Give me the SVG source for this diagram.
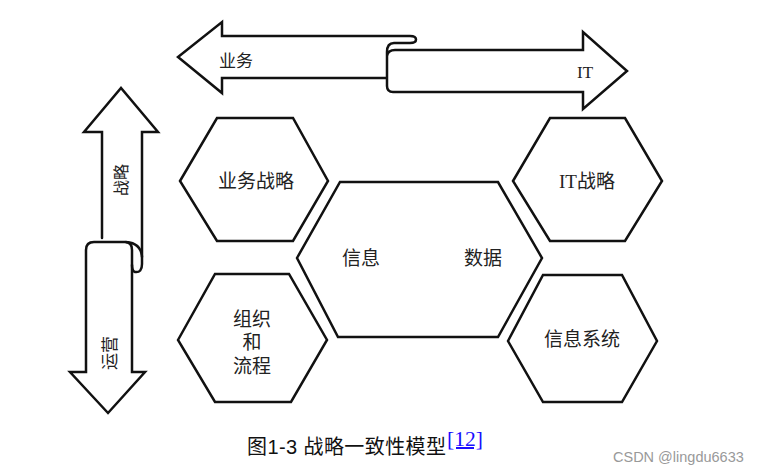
<svg xmlns="http://www.w3.org/2000/svg" width="770" height="476" viewBox="0 0 770 476">
<style>
.ln{fill:none;stroke:#111;stroke-width:2.5;stroke-linejoin:miter;stroke-linecap:round}
.sh{fill:#fff;stroke:#111;stroke-width:2.5;stroke-linejoin:miter}
.t{font-family:"Liberation Serif","Noto Sans CJK SC",serif;fill:#222;text-anchor:middle;dominant-baseline:central}
.t19{font-size:19px}
</style>
<rect width="770" height="476" fill="#fff"/>
<g id="arrows">
  <g id="arrow-business-it">
    <path class="ln" d="M387,78 L222,78 L222,93 L178,57 L222,22 L222,36 L410,36 C418,36 418,43 410,43 L394,43 C389,43 387,46 387,52 L387,86 Q387,92 393,92 L583,92 L583,109 L627,71 L583,32 L583,50 L395,50 Q388,50 387,56"/>
    <text class="t" x="236" y="61" font-size="17">业务</text>
    <text class="t" x="585" y="72" font-size="17">IT</text>
  </g>
  <g id="arrow-strategy-operation">
    <path class="ln" d="M102,238 L102,132 L84,132 L121,88 L158,132 L142,132 L142,264 Q142,273 135,272 Q132,271 132,265"/>
    <path class="ln" d="M132,372 L132,250 Q132,242 125,242 L94,242 Q86,242 86,250 L86,372 L70,372 L108,413 L145,372 Z"/>
    <path class="ln" d="M126,242 Q141,243 142,257"/>
    <text class="t" x="0" y="0" font-size="16" transform="translate(121,180) rotate(-90)">战略</text>
    <text class="t" x="0" y="0" font-size="17" transform="translate(110,353) rotate(-90)">运营</text>
  </g>
</g>
<g id="hex-business-strategy">
  <polygon class="sh" points="180,181 217,118 293,118 328,181 293,241 217,241"/>
  <text class="t t19" x="256" y="181">业务战略</text>
</g>
<g id="hex-it-strategy">
  <polygon class="sh" points="513,181 550,118 625,118 662,181 625,241 550,241"/>
  <text class="t t19" x="587" y="181">IT战略</text>
</g>
<g id="hex-center">
  <polygon class="sh" points="297,258 340,182 498,182 542,258 498,337 338,337"/>
  <text class="t t19" x="361" y="258">信息</text>
  <text class="t t19" x="483" y="258">数据</text>
</g>
<g id="hex-org-process">
  <polygon class="sh" points="178,340 215,274 289,274 327,340 291,402 215,402"/>
  <text class="t t19" x="252" y="319">组织</text>
  <text class="t t19" x="252" y="342">和</text>
  <text class="t t19" x="252" y="366">流程</text>
</g>
<g id="hex-info-system">
  <polygon class="sh" points="508,341 543,275 622,275 657,341 622,402 543,402"/>
  <text class="t t19" x="582" y="339">信息系统</text>
</g>
<g id="caption">
  <text x="247" y="454" font-family="Liberation Sans,Noto Sans CJK SC,sans-serif" font-size="20" fill="#111" textLength="199" lengthAdjust="spacing">图1-3 战略一致性模型</text>
  <text x="447" y="446" font-family="Liberation Serif,serif" font-size="20" fill="#1a0dff" text-decoration="underline" textLength="36" lengthAdjust="spacingAndGlyphs">[12]</text>
</g>
<text x="613" y="462" font-family="Liberation Sans,sans-serif" font-size="14.5" fill="#999">CSDN @lingdu6633</text>
</svg>
